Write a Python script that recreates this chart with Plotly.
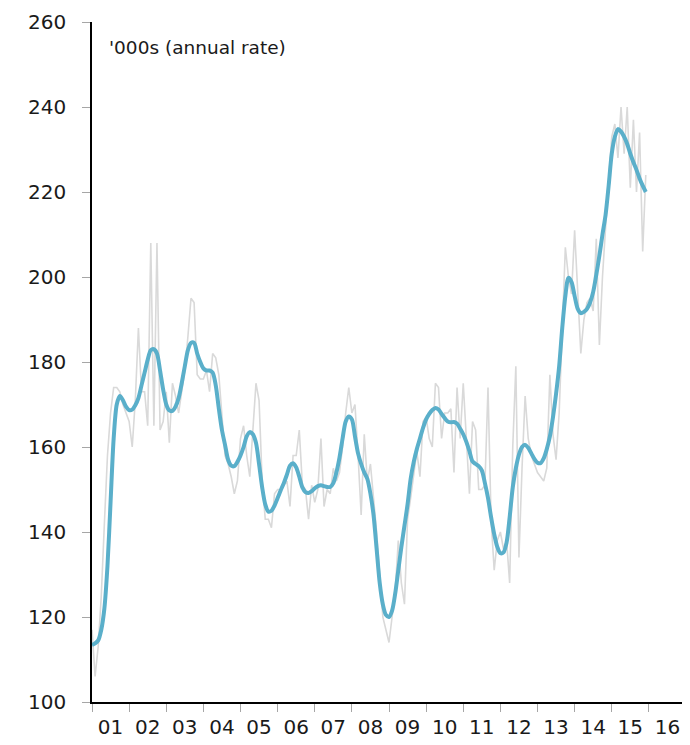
import plotly.graph_objects as go

start_year = 2001
monthly_actual = [
    117, 106, 113, 125, 142, 158, 168, 174, 174, 173, 170, 168,
    166, 160, 171, 188, 173, 173, 165, 208, 165, 208, 164, 166,
    173, 161, 175, 172, 168, 173, 178, 186, 195, 194, 177, 176,
    176, 178, 173, 182, 181, 177, 168, 158, 156, 153, 149, 152,
    162, 165, 158, 153, 164, 175, 171, 152, 143, 143, 141, 149,
    150, 150, 151, 152, 146, 158, 158, 164, 151, 150, 143, 151,
    147, 150, 162, 146, 150, 149, 155, 152, 154, 160, 168, 174,
    168, 170, 158, 144, 163, 152, 156, 148, 140, 130, 120, 117,
    114, 120, 126, 138, 128, 123, 143, 148, 154, 159, 153, 166,
    167, 162, 160, 175, 174, 162, 168, 168, 169, 154, 174, 162,
    175, 161, 149, 166, 164, 150, 150, 151, 174, 143, 131, 138,
    140, 136, 138, 128, 160, 179, 134, 155, 172, 162, 158, 156,
    154, 153, 152, 155, 177, 163, 157, 168, 190, 207, 200, 196,
    211, 196, 182, 190, 194, 195, 192, 209, 184, 200, 213, 223,
    233, 236, 228, 240, 229, 240, 221, 237, 220, 234, 206, 224,
]
trend = [
    113.4, 113.8, 114.5, 117, 122, 132, 147, 162, 170, 172, 171, 169.5,
    168.7, 168.8, 169.8, 171.5, 174.5, 177.5, 180.5, 182.8, 183, 182, 178, 173.5,
    170, 168.6, 168.5, 169.5, 171.5, 175, 179, 182.8, 184.5, 184.5, 182, 180,
    178.5, 178, 178, 177.5, 174.5, 169, 164, 160.5, 157, 155.6, 155.5, 156.5,
    158, 160, 162.5, 163.5, 163, 161, 156, 150.5, 146.5, 144.8, 145, 146.2,
    148, 149.8, 151.5, 153.5, 155.6, 156.2, 155.2, 153, 150.5, 149.4, 149.2, 149.6,
    150.3, 150.8, 151, 150.8, 150.6, 150.6, 151.5, 154, 157.5, 162, 166, 167.2,
    166.5, 162.5, 158.5, 156, 154, 152.5, 149, 144, 136, 128, 123, 120.5,
    120, 121.5, 125.5, 131, 136.5, 141.5, 146.5, 152.5, 156.5, 159.5, 162, 164.5,
    166.5, 167.8, 168.7, 169.2, 168.8, 167.8, 166.8, 166, 165.8, 165.9, 165.5, 164.3,
    163, 161.2, 159, 156.6, 156, 155.5, 154.5, 151.5, 148, 143.5, 139.5, 136.5,
    135, 135.2, 137.5, 143.5, 150.5, 155, 158.2, 160, 160.5, 159.8, 158.5, 157.2,
    156.3, 156.2, 157.3, 159.5, 162.5, 167, 172.5, 179, 188, 195.5, 199.8, 198.8,
    195.5, 192.5, 191.5, 191.8, 192.5, 194, 196.5, 200.5, 205, 210, 214.6, 221.5,
    229, 233, 234.8, 234.2, 233, 231.3, 229, 227, 225.2, 223.2, 221.5, 220,
]
year_labels = ["01", "02", "03", "04", "05", "06", "07", "08",
               "09", "10", "11", "12", "13", "14", "15", "16"]
y_ticks = [100, 120, 140, 160, 180, 200, 220, 240, 260]

x_vals = [start_year + i / 12 for i in range(len(monthly_actual))]
label_pos = [start_year + i + 0.5 for i in range(len(year_labels))]

fig = go.Figure()
fig.add_trace(go.Scatter(x=x_vals, y=monthly_actual, mode="lines",
                         line=dict(color="#d9d9d9", width=1.6), hoverinfo="skip"))
fig.add_trace(go.Scatter(x=x_vals, y=trend, mode="lines",
                         line=dict(color="#5aafca", width=4, shape="spline", smoothing=0.8)))

font_family = "'DejaVu Sans', sans-serif"
fig.update_layout(
    width=682, height=737,
    margin=dict(l=84, r=4, t=14, b=43, autoexpand=False),
    paper_bgcolor="white", plot_bgcolor="white",
    showlegend=False,
    font=dict(family=font_family, color="#1a1a1a"),
    xaxis=dict(
        range=[start_year, start_year + len(year_labels)],
        tickvals=label_pos, ticktext=year_labels, ticks="",
        tickfont=dict(size=20, color="#1a1a1a"),
        ticklabelstandoff=6, automargin=False,
        showgrid=False, zeroline=False,
        showline=True, linecolor="black", linewidth=1.5,
        minor=dict(ticks="outside", tick0=start_year, dtick=1, ticklen=8,
                   tickcolor="#a6a6a6", tickwidth=1, showgrid=False),
    ),
    yaxis=dict(
        range=[100, 260], tickvals=y_ticks,
        ticks="outside", ticklen=8, tickcolor="#a6a6a6", tickwidth=1,
        tickfont=dict(size=20, color="#1a1a1a"),
        ticklabelstandoff=12, automargin=False,
        showgrid=False, zeroline=False,
        showline=True, linecolor="black", linewidth=1.5,
    ),
    annotations=[dict(
        text="'000s (annual rate)", xref="paper", yref="paper",
        x=0.025, y=0.962, xanchor="left", yanchor="middle", showarrow=False,
        font=dict(size=18.5, color="#1a1a1a", family=font_family),
    )],
)
fig.write_html("out.html")
